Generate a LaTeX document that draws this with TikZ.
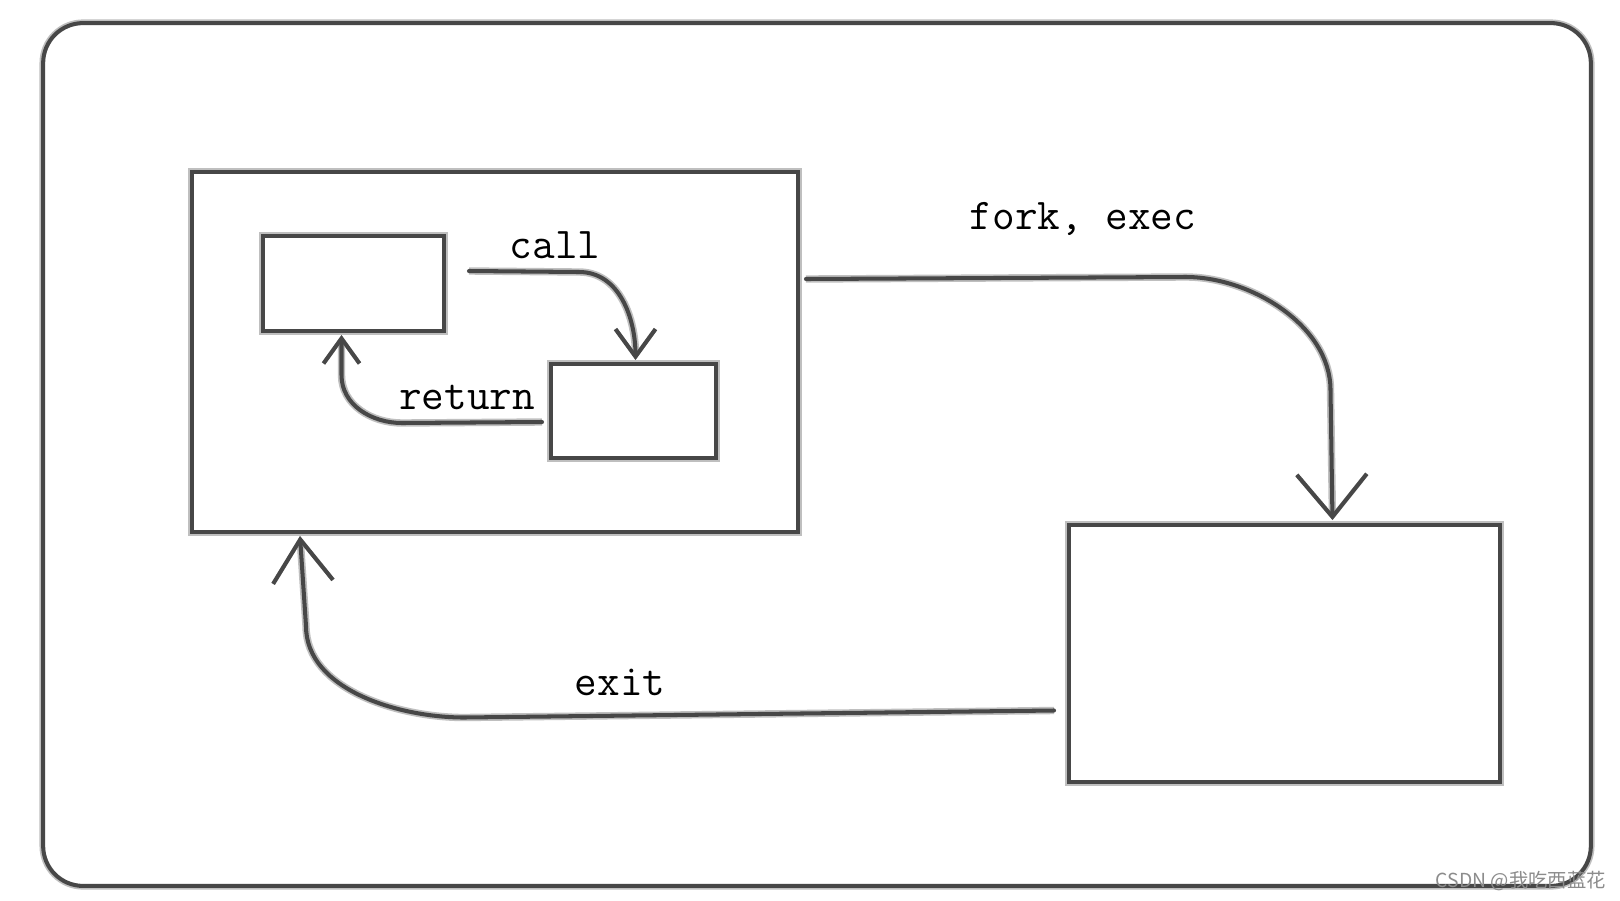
\documentclass[tikz,border=0pt]{standalone}
\usepackage{fontspec}
\usetikzlibrary{arrows.meta,calc}
\newfontfamily\cjkfont{Noto Sans CJK SC}
\tikzset{
  sketch/.style={draw=black!72, line width=2.3pt,
    preaction={draw=black!25, line width=4.2pt}},
  boxnode/.style={sketch, rectangle, inner sep=0pt, fill=white},
  conn/.style 2 args={sketch, line cap=round,
    -{Straight Barb[length=#1, width=#2, line width=2.3pt]}},
  lab/.style={font=\ttfamily\fontsize{25}{27}\selectfont, text=black, inner sep=0pt},
  wmark/.style={font=\cjkfont\fontsize{11}{13}\selectfont, text=black!45, inner sep=0pt}
}
\begin{document}
\begin{tikzpicture}[x=0.02cm, y=-0.02cm]
\useasboundingbox (0,0) rectangle (1620,900);
\fill[white] (0,0) rectangle (1620,900);
% outer rounded frame
\node[boxnode, rounded corners=0.8cm, minimum width=30.96cm, minimum height=17.26cm] (outer) at (817,454.5) {};
% boxes
\node[boxnode, minimum width=12.12cm, minimum height=7.2cm] (P) at (495,352) {};
\node[boxnode, minimum width=3.62cm, minimum height=1.9cm] (A) at (353.5,283.5) {};
\node[boxnode, minimum width=3.3cm, minimum height=1.88cm] (B) at (633.5,411) {};
\node[boxnode, minimum width=8.62cm, minimum height=5.14cm] (R) at (1284.5,653.5) {};
% labels
\node[lab] (lcall) at (555,245) {call};
\node[lab] (lret) at (467,397) {return};
\node[lab] (lfork) at (1083,219) {fork, exec};
\node[lab] (lexit) at (620,682) {exit};
\node[wmark, anchor=east] (wm) at (1606,881) {CSDN @我吃西蓝花};
% connector end points
\coordinate (cs) at ($(A.east)+(23,-12.5)$);
\coordinate (ce) at ($(B.north)+(2,-2)$);
\coordinate (rs) at ($(B.west)+(-7,11)$);
\coordinate (re) at ($(A.south)+(-12,2)$);
\coordinate (fs) at ($(P.east)+(6,-73)$);
\coordinate (fe) at ($(R.north)+(48,-3)$);
\coordinate (es) at ($(R.west)+(-13,57)$);
\coordinate (ee) at ($(P.south)+(-195,2)$);
% connectors
\draw[conn={0.55cm}{0.8cm}] (cs) -- ++(110,1) to[out=0,in=90, looseness=1] (ce);
\draw[conn={0.5cm}{0.72cm}] (rs) -- ++(-140,1) to[out=180,in=-90, looseness=1] ($(re)+(0,40)$) -- (re);
\draw[conn={0.85cm}{1.4cm}] (fs) -- ++(380,-2) to[out=0,in=90, looseness=0.9] ($(fe)+(-2,-130)$) -- (fe);
\draw[conn={0.85cm}{1.2cm}] (es) -- ++(-590,7) to[out=180,in=-90, looseness=0.9] ($(ee)+(6,90)$) -- (ee);
\end{tikzpicture}
\end{document}
